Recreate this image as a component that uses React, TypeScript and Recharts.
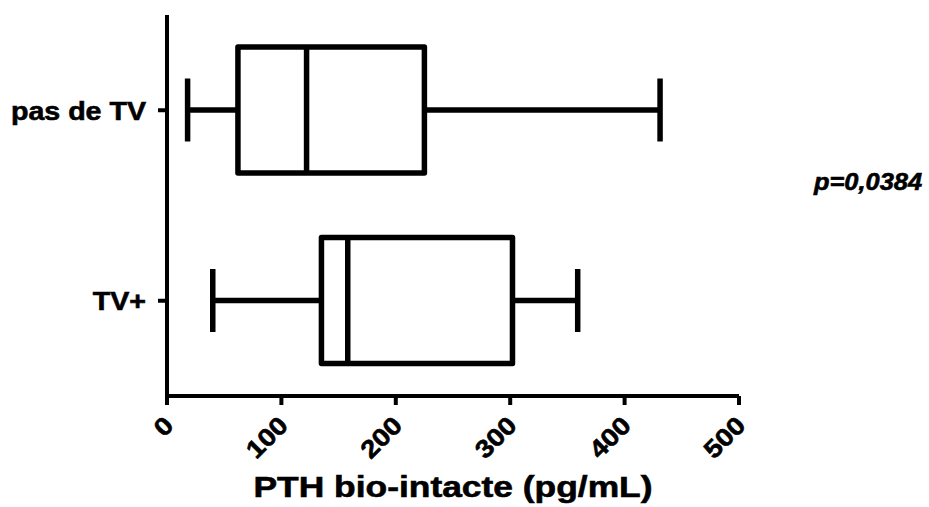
import React from 'react';
import { ComposedChart, Bar, XAxis, YAxis } from 'recharts';

const categories = ['pas de TV', 'TV+'];
const mins = [18, 40];
const q1s = [62, 135];
const medians = [122, 158];
const q3s = [225, 302];
const maxs = [431, 359];
const xTicks = [0, 100, 200, 300, 400, 500];
const pValueText = 'p=0,0384';
const xTitle = 'PTH bio-intacte (pg/mL)';

const data = categories.map((name, i) => ({
  name,
  min: mins[i],
  q1: q1s[i],
  median: medians[i],
  q3: q3s[i],
  max: maxs[i],
  range: [mins[i], maxs[i]],
}));

const FONT = '"Liberation Sans", Arial, Helvetica, sans-serif';

const BoxShape = (props: any) => {
  const { x, y, width, height, payload } = props;
  const px = (v: number) => x + ((v - payload.min) / (payload.max - payload.min)) * width;
  const cy = y + height / 2;
  const capH = height * 0.5;
  const sw = 5.5;
  return (
    <g stroke="#000" strokeWidth={sw} fill="none">
      <line x1={px(payload.min)} x2={px(payload.q1)} y1={cy} y2={cy} />
      <line x1={px(payload.q3)} x2={px(payload.max)} y1={cy} y2={cy} />
      <line x1={px(payload.min)} x2={px(payload.min)} y1={cy - capH / 2} y2={cy + capH / 2} />
      <line x1={px(payload.max)} x2={px(payload.max)} y1={cy - capH / 2} y2={cy + capH / 2} />
      <rect
        x={px(payload.q1)}
        y={y}
        width={px(payload.q3) - px(payload.q1)}
        height={height}
        strokeLinejoin="round"
        fill="#fff"
      />
      <line x1={px(payload.median)} x2={px(payload.median)} y1={y} y2={y + height} />
    </g>
  );
};

const textStyle = {
  fontWeight: 'bold' as const,
  fontFamily: FONT,
  fill: '#000',
  stroke: '#000',
  strokeWidth: 0.6,
};

const YTick = (props: any) => {
  const { x, y, payload } = props;
  return (
    <g transform={`translate(${x},${y})`}>
      <text transform="scale(1.1,1)" textAnchor="end" dy="0.36em" fontSize={26} {...textStyle}>
        {payload.value}
      </text>
    </g>
  );
};

const XTick = (props: any) => {
  const { x, y, payload } = props;
  return (
    <g transform={`translate(${x + 8},${y})`}>
      <text transform="rotate(-45) scale(1.12,1)" textAnchor="end" fontSize={25} {...textStyle}>
        {payload.value}
      </text>
    </g>
  );
};

const XTitle = (props: any) => {
  const vb = props.viewBox || {};
  const cx = vb.x + vb.width / 2;
  const by = vb.y + 101;
  return (
    <g transform={`translate(${cx},${by})`}>
      <text transform="scale(1.18,1)" textAnchor="middle" fontSize={30} {...textStyle}>
        {xTitle}
      </text>
    </g>
  );
};

export default function App() {
  return (
    <div style={{ position: 'absolute', left: 0, top: 0, width: 929, height: 507, background: '#fff' }}>
      <ComposedChart
        width={929}
        height={507}
        data={data}
        layout="vertical"
        margin={{ top: 15, right: 190, bottom: 0, left: 0 }}
      >
        <XAxis
          type="number"
          domain={[0, 500]}
          ticks={xTicks}
          interval={0}
          height={111}
          tickSize={9}
          tickMargin={22}
          axisLine={{ stroke: '#000', strokeWidth: 4 }}
          tickLine={{ stroke: '#000', strokeWidth: 4 }}
          tick={<XTick />}
          label={{ content: <XTitle /> } as any}
        />
        <YAxis
          type="category"
          dataKey="name"
          width={167}
          tickSize={9}
          tickMargin={12}
          axisLine={{ stroke: '#000', strokeWidth: 4 }}
          tickLine={{ stroke: '#000', strokeWidth: 4 }}
          tick={<YTick />}
        />
        <Bar dataKey="range" barSize={126} shape={<BoxShape />} isAnimationActive={false} />
      </ComposedChart>
      <svg width={929} height={507} style={{ position: 'absolute', left: 0, top: 0, pointerEvents: 'none' }}>
        <g transform="translate(868,190)">
          <text transform="scale(1.06,1)" textAnchor="middle" fontSize={24} fontStyle="italic" {...textStyle}>
            {pValueText}
          </text>
        </g>
      </svg>
    </div>
  );
}
